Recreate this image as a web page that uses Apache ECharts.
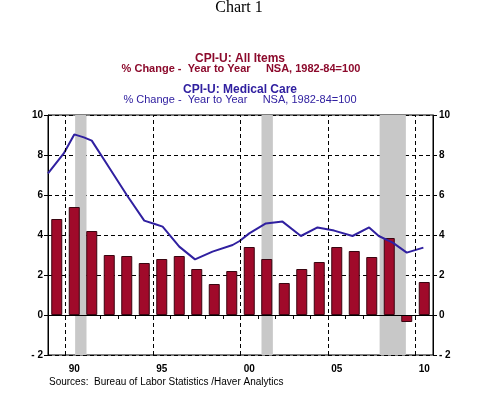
<!DOCTYPE html>
<html><head><meta charset="utf-8">
<script src="https://cdn.jsdelivr.net/npm/echarts@6/dist/echarts.min.js"></script>
<style>html,body{margin:0;padding:0;background:#fff}#c{width:478px;height:393px}</style>
</head><body><div id="c"></div>
<script>
// Annual categories (tick labels shown for 90, 95, 00, 05, 10)
const years = ['89','90','91','92','93','94','95','96','97','98','99','00','01','02','03','04','05','06','07','08','09','10'];
const shownYearLabels = ['90','95','00','05','10'];
// CPI-U: All Items, % change year to year (bars)
const allItems = [4.8,5.4,4.2,3.0,2.95,2.6,2.8,2.95,2.3,1.55,2.2,3.4,2.8,1.6,2.3,2.65,3.4,3.2,2.9,3.85,-0.35,1.65];
// CPI-U: Medical Care, % change year to year (line) — time in fractional years
const medDates  = [1989.0,1989.9,1990.5,1991.05,1991.5,1992.4,1993.5,1994.5,1995.1,1995.55,1996.5,1997.4,1998.4,1999.55,1999.95,2000.5,2001.45,2002.4,2003.45,2004.4,2005.35,2006.4,2007.35,2007.9,2008.7,2009.5,2010.45];
const medValues = [7.08,8.08,9.03,8.88,8.72,7.5,6.0,4.72,4.55,4.42,3.42,2.78,3.17,3.5,3.7,4.08,4.58,4.67,3.95,4.38,4.22,3.95,4.38,3.95,3.62,3.12,3.37];
// Recession periods (shaded)
const recessions = [[1990.55,1991.2],[2001.2,2001.85],[2007.95,2009.45]];
// Vertical dashed grid years
const gridYears = [1990,1995,2000,2005,2010];

const RED = '#8c0a2c', BLUE = '#3020a0';
const chart = echarts.init(document.getElementById('c'), null, {renderer:'canvas'});
const yLab = {fontFamily:'Arial', fontWeight:'bold', fontSize:10, color:'#000', formatter: v => v < 0 ? '- ' + Math.abs(v) : String(v)};
const dashed = {color:'#000', width:1, type:[4,3]};
chart.setOption({
  animation:false,
  grid:{left:48, top:115, width:385, height:240, show:true, borderColor:'#000', borderWidth:1, backgroundColor:'transparent'},
  xAxis:[
    {type:'category', data:years, boundaryGap:true,
     axisLine:{show:true, lineStyle:{color:'#000', width:1}},
     axisTick:{show:true, interval:0, length:4, inside:false, lineStyle:{color:'#000'}},
     axisLabel:{interval:0, margin:9, fontFamily:'Arial', fontWeight:'bold', fontSize:10, color:'#000',
       formatter: v => shownYearLabels.includes(v) ? v : ''},
     splitLine:{show:false}},
    {type:'value', min:1989, max:2011, show:false, splitLine:{show:false}}
  ],
  yAxis:[
    {type:'value', min:-2, max:10, interval:2, position:'left',
     axisLine:{show:true, lineStyle:{color:'#000'}}, axisTick:{show:true, length:4, lineStyle:{color:'#000'}},
     axisLabel:Object.assign({margin:5}, yLab),
     splitLine:{show:true, lineStyle:dashed}},
    {type:'value', min:-2, max:10, interval:2, position:'right',
     axisLine:{show:true, lineStyle:{color:'#000'}}, axisTick:{show:true, length:4, lineStyle:{color:'#000'}},
     axisLabel:Object.assign({margin:6}, yLab),
     splitLine:{show:false}}
  ],
  series:[
    {type:'line', xAxisIndex:1, yAxisIndex:0, data:[], z:0, silent:true,
     markArea:{silent:true, itemStyle:{color:'#c8c8c8'}, data: recessions.map(r => [{xAxis:r[0]},{xAxis:r[1]}])}},
    {type:'bar', xAxisIndex:0, yAxisIndex:0, data:allItems, barWidth:11, z:3,
     itemStyle:{color:'#a00a2a', borderColor:'#3a0510', borderWidth:1}},
    {type:'line', xAxisIndex:1, yAxisIndex:0, data:medDates.map((d,i)=>[d, medValues[i]]),
     showSymbol:false, symbol:'none', z:4, lineStyle:{color:BLUE, width:2},
     markLine:{silent:true, symbol:'none', label:{show:false},
       data:[...gridYears.map(y => ({xAxis:y, lineStyle:dashed})), {yAxis:0, lineStyle:{color:'#000', width:1, type:'solid'}}]}}
  ],
  graphic:[
    {type:'text', left:'center', top:0, style:{text:'Chart 1', font:'16px "Liberation Serif", serif', fill:'#000'}},
    {type:'text', x:240, y:53, style:{text:'CPI-U: All Items', textAlign:'center', font:'bold 12px Arial', fill:RED}},
    {type:'text', x:241, y:63, style:{text:'% Change -  Year to Year     NSA, 1982-84=100', textAlign:'center', font:'bold 11px Arial', fill:RED}},
    {type:'text', x:240, y:84, style:{text:'CPI-U: Medical Care', textAlign:'center', font:'bold 12px Arial', fill:BLUE}},
    {type:'text', x:240, y:94, style:{text:'% Change -  Year to Year     NSA, 1982-84=100', textAlign:'center', font:'11px Arial', fill:BLUE}},
    {type:'text', x:49, y:377, style:{text:'Sources:  Bureau of Labor Statistics /Haver Analytics', font:'10px Arial', fill:'#000'}}
  ]
});
</script></body></html>
